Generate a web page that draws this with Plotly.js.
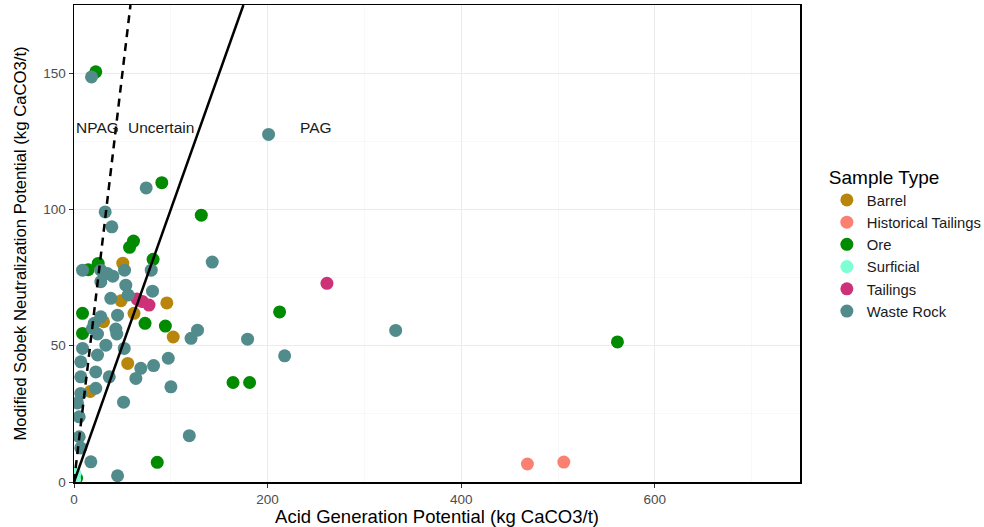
<!DOCTYPE html>
<html>
<head>
<meta charset="utf-8">
<script src="https://cdn.plot.ly/plotly-3.0.1.min.js"></script>
<style>html,body{margin:0;padding:0;background:#fff;}#chart{width:984px;height:527px;}</style>
</head>
<body>
<div id="chart"></div>
<script>
// ---- data ----
const categories = ["Barrel", "Historical Tailings", "Ore", "Surficial", "Tailings", "Waste Rock"];
const colors = ["#B8860B", "#FA8072", "#008B00", "#7FFFD4", "#CD3278", "#528B8B"];

const barrelAP = [50.4, 48.6, 95.9, 62.0, 30.5, 102.5, 55.5, 16.8];
const barrelNP = [80.3, 66.5, 65.7, 61.9, 58.8, 53.2, 43.5, 33.2];

const histAP = [468.4, 506.0];
const histNP = [6.6, 7.3];

const oreAP = [22.5, 90.7, 131.5, 61.5, 57.4, 81.7, 25.0, 14.7, 212.4, 8.8, 73.4, 94.4, 8.8, 561.4, 164.3, 181.4, 86.0, 2.6];
const oreNP = [150.5, 109.8, 97.9, 88.4, 86.1, 81.7, 80.2, 77.9, 62.4, 61.9, 58.2, 57.2, 54.5, 51.4, 36.5, 36.5, 7.2, 1.4];

const surfAP = [1.0, 0.6];
const surfNP = [3.0, 1.0];

const tailAP = [65.1, 70.8, 77.5, 261.3];
const tailNP = [67.1, 66.2, 64.9, 72.9];

const wasteAP = [18.1, 201.0, 74.6, 32.2, 39.1, 142.8, 8.8, 27.7, 34.6, 40.1, 52.2, 79.8, 27.7, 53.5, 81.1, 38.0, 56.0,
  45.0, 27.7, 20.9, 43.2, 19.1, 127.6, 120.9, 179.3, 217.6, 332.3, 24.3, 44.2, 8.8, 32.9, 51.9, 24.3, 69.0, 82.2, 97.4,
  22.5, 36.4, 63.9, 100.1, 22.5, 51.2, 119.1, 17.4, 45.0, 7.0, 7.0, 7.0, 5.4, 5.4, 7.0, 3.6];
const wasteNP = [148.6, 127.5, 107.9, 99.1, 93.6, 80.7, 77.7, 77.7, 76.5, 75.5, 77.7, 77.7, 73.5, 72.2, 70.0, 67.4, 68.6,
  61.2, 60.6, 58.2, 56.1, 56.4, 55.7, 52.7, 52.4, 46.3, 55.6, 54.3, 54.3, 49.0, 50.2, 49.0, 46.6, 41.7, 42.7, 45.4,
  40.4, 38.6, 38.0, 34.9, 34.4, 29.3, 17.0, 7.4, 2.3, 44.1, 38.6, 32.5, 23.9, 16.6, 12.5, 29.0];

// NPR classification lines (NP = ratio * AP)
const nprRatios = [1, 3];
const nprDash = ["solid", "dash"];
const zoneLabels = ["NPAG", "Uncertain", "PAG"];
const zoneLabelX = [24, 90, 250];
const zoneLabelY = 130;

const xTicks = [0, 200, 400, 600];
const yTicks = [0, 50, 100, 150];
const xMax = 750, yMax = 175;

// ---- traces ----
const seriesX = [barrelAP, histAP, oreAP, surfAP, tailAP, wasteAP];
const seriesY = [barrelNP, histNP, oreNP, surfNP, tailNP, wasteNP];

const traces = categories.map((name, i) => ({
  type: "scatter", mode: "markers", name: name,
  x: seriesX[i], y: seriesY[i],
  marker: {color: colors[i], size: 13, line: {width: 0}},
  hoverinfo: "skip"
}));

nprRatios.forEach((r, i) => {
  traces.push({
    type: "scatter", mode: "lines", showlegend: false, hoverinfo: "skip",
    x: [0, yMax / r], y: [0, yMax],
    line: {color: "#000", width: 2.5, dash: nprDash[i] === "dash" ? "8px,6px" : "solid"}
  });
});

const annotations = zoneLabels.map((t, i) => ({
  x: zoneLabelX[i], y: zoneLabelY, xref: "x", yref: "y", text: t, showarrow: false,
  font: {family: "Liberation Sans, Arial, sans-serif", size: 15.5, color: "#1a1a1a"}
}));

const layout = {
  width: 984, height: 527,
  margin: {l: 74, r: 184, t: 5, b: 45, autoexpand: false},
  paper_bgcolor: "#fff", plot_bgcolor: "#fff",
  font: {family: "Liberation Sans, Arial, sans-serif", color: "#000"},
  showlegend: true,
  xaxis: {
    range: [0, xMax], tickvals: xTicks, ticktext: xTicks.map(String),
    ticks: "outside", ticklen: 4, tickcolor: "#333", tickwidth: 1,
    tickfont: {size: 13.5, color: "#4d4d4d"},
    showgrid: true, gridcolor: "#ebebeb", gridwidth: 1.1,
    minor: {dtick: 100, tick0: 0, showgrid: true, gridcolor: "#f3f3f3", gridwidth: 0.6, ticks: ""},
    zeroline: false, showline: true, mirror: true, linecolor: "#000", linewidth: 1.5,
    title: {text: "Acid Generation Potential (kg CaCO3/t)", font: {size: 18.5, color: "#000"}, standoff: 0}
  },
  yaxis: {
    range: [0, yMax], tickvals: yTicks, ticktext: yTicks.map(String),
    ticks: "outside", ticklen: 4, tickcolor: "#333", tickwidth: 1,
    tickfont: {size: 13.5, color: "#4d4d4d"},
    showgrid: true, gridcolor: "#ebebeb", gridwidth: 1.1,
    minor: {dtick: 25, tick0: 0, showgrid: true, gridcolor: "#f3f3f3", gridwidth: 0.6, ticks: ""},
    zeroline: false, showline: true, mirror: true, linecolor: "#000", linewidth: 1.5,
    title: {text: "Modified Sobek Neutralization Potential (kg CaCO3/t)", font: {size: 16.7, color: "#000"}, standoff: 12}
  },
  legend: {
    x: 1.037, xanchor: "left", y: 0.677, yanchor: "top",
    title: {text: "Sample Type", font: {size: 19, color: "#000"}},
    font: {size: 14.8, color: "#1a1a1a"},
    bgcolor: "rgba(0,0,0,0)", itemsizing: "trace", tracegroupgap: 0
  },
  annotations: annotations
};

Plotly.newPlot("chart", traces, layout, {displayModeBar: false, staticPlot: true});
</script>
</body>
</html>
